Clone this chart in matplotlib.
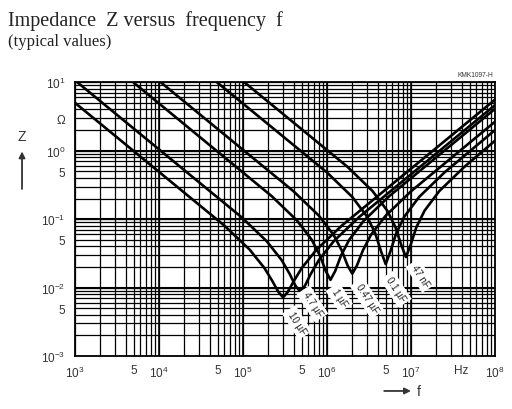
import matplotlib
matplotlib.use("Agg")
import matplotlib.pyplot as plt

plt.rcParams["font.family"] = ["Liberation Sans", "DejaVu Sans"]
plt.rcParams["mathtext.fontset"] = "custom"
plt.rcParams["mathtext.rm"] = "Liberation Sans"
plt.rcParams["mathtext.it"] = "Liberation Sans"

# impedance curves: frequency (Hz) and |Z| (ohm)
labels = ["10 µF", "4.7 µF", "1 µF", "0.47 µF", "0.1 µF", "47 nF"]

f_10u = [1e3, 6.0e4, 1.2e5, 1.8e5, 2.25e5, 2.64e5, 3.0e5, 3.41e5, 4.0e5, 5.0e5, 7.5e5, 1.5e6, 1e8]
z_10u = [5.0, 0.0805, 0.0359, 0.0193, 0.0123, 0.00864, 0.0072, 0.00864, 0.0123, 0.0193, 0.0359, 0.0805, 5.57]

f_4u7 = [1e3, 9.6e4, 1.92e5, 2.88e5, 3.6e5, 4.22e5, 4.8e5, 5.45e5, 6.4e5, 8.0e5, 1.2e6, 2.4e6, 1e8]
z_4u7 = [10.65, 0.1069, 0.0475, 0.0253, 0.0158, 0.0106, 0.0088, 0.0106, 0.0158, 0.0253, 0.0475, 0.1069, 4.63]

f_1u = [1e3, 2.2e5, 4.4e5, 6.6e5, 8.25e5, 9.68e5, 1.1e6, 1.25e6, 1.467e6, 1.833e6, 2.75e6, 5.5e6, 1e8]
z_1u = [50.0, 0.2164, 0.0954, 0.0497, 0.0293, 0.0174, 0.013, 0.0174, 0.0293, 0.0497, 0.0954, 0.2164, 4.09]

f_470n = [1e3, 4e5, 8e5, 1.2e6, 1.5e6, 1.76e6, 2.0e6, 2.27e6, 2.67e6, 3.33e6, 5e6, 1e7, 1e8]
z_470n = [106.5, 0.255, 0.1125, 0.0588, 0.0348, 0.021, 0.016, 0.021, 0.0348, 0.0588, 0.1125, 0.255, 2.65]

f_100n = [1e3, 1e6, 2e6, 3e6, 3.75e6, 4.4e6, 5.0e6, 5.68e6, 6.67e6, 8.33e6, 1.25e7, 2.5e7, 1e8]
z_100n = [500.0, 0.4805, 0.2111, 0.1089, 0.0623, 0.0338, 0.022, 0.0338, 0.0623, 0.1089, 0.2111, 0.4805, 2.0]

f_47n = [1e3, 1.74e6, 3.48e6, 5.22e6, 6.525e6, 7.66e6, 8.7e6, 9.88e6, 1.16e7, 1.45e7, 2.175e7, 4.35e7, 1e8]
z_47n = [1065.0, 0.586, 0.2578, 0.1331, 0.0764, 0.0419, 0.028, 0.0419, 0.0764, 0.1331, 0.2578, 0.586, 1.40]

x_ticks = [1e3, 5e3, 1e4, 5e4, 1e5, 5e5, 1e6, 5e6, 1e7, 4e7, 1e8]
x_ticklabels = ["$10^3$", "5", "$10^4$", "5", "$10^5$", "5", "$10^6$", "5", "$10^7$", "Hz", "$10^8$"]
y_ticks = [1e-3, 5e-3, 1e-2, 5e-2, 1e-1, 5e-1, 1, 3, 10]
y_ticklabels = ["$10^{-3}$", "5", "$10^{-2}$", "5", "$10^{-1}$", "5", "$10^0$", "Ω", "$10^1$"]

fig = plt.figure(figsize=(5.12, 4.10), dpi=100)
ax = fig.add_axes([0.1465, 0.129, 0.8203, 0.668])
ax.set_xscale("log")
ax.set_yscale("log")
ax.set_xlim(1e3, 1e8)
ax.set_ylim(1e-3, 1e1)

ax.grid(which="both", color="black", lw=0.9)
ax.set_axisbelow(True)
for d in [1e4, 1e5, 1e6, 1e7]:
    ax.axvline(d, color="black", lw=1.2, zorder=1)
for d in [1e-2, 1e-1, 1]:
    ax.axhline(d, color="black", lw=1.5, zorder=1)

curves = [(f_10u, z_10u), (f_4u7, z_4u7), (f_1u, z_1u),
          (f_470n, z_470n), (f_100n, z_100n), (f_47n, z_47n)]
for f, z in curves:
    ax.plot(f, z, color="black", lw=1.9, zorder=3)

# rotated capacitor labels below the resonance dips
label_pos = [(4.4e5, 3.1e-3), (6.7e5, 5.8e-3), (1.4e6, 7.2e-3),
             (3.0e6, 7.0e-3), (6.6e6, 9.5e-3), (1.3e7, 1.5e-2)]
for lab, (x, y) in zip(labels, label_pos):
    ax.text(x, y, lab, rotation=-57, ha="center", va="center", fontsize=7,
            color="#222222", zorder=4,
            bbox=dict(facecolor="white", edgecolor="none", pad=2.2))

ax.set_xticks(x_ticks)
ax.set_xticklabels(x_ticklabels)
ax.set_yticks(y_ticks)
ax.set_yticklabels(y_ticklabels)
ax.minorticks_on()
ax.tick_params(which="both", length=0, labelsize=8.5, labelcolor="#333333")
ax.tick_params(axis="x", pad=6)
ax.tick_params(axis="y", pad=7)
for s in ax.spines.values():
    s.set_linewidth(1.3)

fig.text(0.016, 0.948, "Impedance  Z versus  frequency  f", family="Liberation Serif",
         fontsize=14.5, va="center", color="#222222")
fig.text(0.016, 0.898, "(typical values)", family="Liberation Serif",
         fontsize=12, va="center", color="#222222")
fig.text(0.963, 0.815, "KMK1097-H", fontsize=4.8, ha="right", va="center", color="#333333")

# axis names with arrows
fig.text(0.043, 0.665, "Z", fontsize=10, ha="center", va="center", color="#333333")
fig.add_artist(matplotlib.patches.FancyArrowPatch(
    (0.043, 0.530), (0.043, 0.635), transform=fig.transFigure,
    arrowstyle="-|>", mutation_scale=9, color="#333333", lw=1.3))
fig.text(0.818, 0.044, "f", fontsize=10, ha="center", va="center", color="#333333")
fig.add_artist(matplotlib.patches.FancyArrowPatch(
    (0.745, 0.044), (0.808, 0.044), transform=fig.transFigure,
    arrowstyle="-|>", mutation_scale=9, color="#333333", lw=1.3))

fig.savefig("out.png", dpi=100)
